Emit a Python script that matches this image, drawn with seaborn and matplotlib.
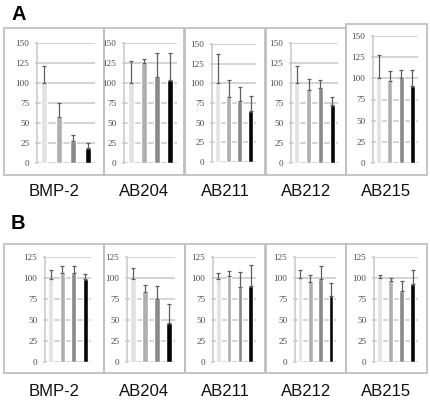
import matplotlib
matplotlib.use("Agg")
import matplotlib.pyplot as plt
from matplotlib.patches import Rectangle
import seaborn as sns
import pandas as pd
import numpy as np

sns.set_theme(style="white")

panels = ["BMP-2", "AB204", "AB211", "AB212", "AB215"]
conditions = ["c1", "c2", "c3", "c4"]
colors = ["#e2e2e2", "#afafaf", "#8a8a8a", "#050505"]

# Row A: means and upper error (sd)
a_means = {
    "BMP-2": [100, 57, 28, 19],
    "AB204": [100, 125, 108, 104],
    "AB211": [100, 83, 78, 65],
    "AB212": [100, 91, 94, 73],
    "AB215": [100, 97, 100, 91],
}
a_sd = {
    "BMP-2": [21, 18, 7, 6],
    "AB204": [28, 5, 29, 33],
    "AB211": [37, 21, 17, 19],
    "AB212": [21, 14, 10, 9],
    "AB215": [28, 12, 10, 19],
}
# Row B
b_means = {
    "BMP-2": [99, 106, 106, 99],
    "AB204": [99, 83, 75, 46],
    "AB211": [99, 102, 89, 90],
    "AB212": [100, 95, 99, 78],
    "AB215": [100, 96, 85, 93],
}
b_sd = {
    "BMP-2": [11, 8, 8, 6],
    "AB204": [13, 9, 15, 23],
    "AB211": [7, 6, 18, 25],
    "AB212": [10, 8, 15, 16],
    "AB215": [4, 4, 12, 16],
}
a_ticks = [0, 25, 50, 75, 100, 125, 150]
b_ticks = [0, 25, 50, 75, 100, 125]

W, H = 430, 404
fig = plt.figure(figsize=(W / 100, H / 100), dpi=100)

def fx(x):
    return x / W

def fy(y):
    return 1 - y / H

# layout (pixels): axes left, right, top, bottom ; boxes left, right, top, bottom
a_axes = [(37, 95, 43, 163), (124, 177, 43, 163), (212, 256, 44, 162),
          (291, 338, 43, 163), (373, 418, 36, 163)]
b_axes = [(45, 91, 257, 362), (127, 175, 257, 362), (213, 256, 257, 362),
          (295, 336, 257, 362), (374, 418, 257, 362)]
a_boxes = [(4, 104, 28, 175), (104, 184, 28, 175), (185, 265, 28, 175),
           (266, 346, 28, 175), (346, 427, 24, 175)]
b_boxes = [(4, 104, 244, 373), (104, 185, 244, 373), (185, 265, 244, 373),
           (266, 346, 244, 373), (346, 427, 244, 373)]
a_label_y = 192
b_label_y = 392

grid_c = "#c8c8c8"
tick_c = "#4a4a4a"

def draw_row(means, sds, ticks, axes_px, boxes_px, label_y):
    for name, (l, r, t, b), (bl, br, bt, bb) in zip(panels, axes_px, boxes_px):
        fig.patches.append(Rectangle((fx(bl), fy(bb)), fx(br - bl), (bb - bt) / H,
                                     transform=fig.transFigure, fill=False,
                                     edgecolor="#c0c0c0", linewidth=1.3, zorder=0))
        ax = fig.add_axes([fx(l), fy(b), fx(r - l), (b - t) / H])
        ax.set_axisbelow(True)
        for v in ticks:
            ax.axhline(v, color=grid_c, linewidth=1.1, zorder=0.5)
        df = pd.DataFrame({"condition": conditions, "value": means[name]})
        sns.barplot(data=df, x="condition", y="value", hue="condition",
                    palette=colors, order=conditions, hue_order=conditions,
                    width=0.44, errorbar=None, legend=False, ax=ax)
        for p in ax.patches:
            p.set_zorder(3)
        xs = np.arange(len(conditions))
        ax.errorbar(xs, means[name], yerr=[np.zeros(4), sds[name]], fmt="none",
                    ecolor="#5e5e5e", elinewidth=0.9, capsize=1.6, capthick=0.9,
                    zorder=4)
        ax.set_xlim(-0.5, 3.5)
        ax.set_ylim(0, ticks[-1])
        ax.set_yticks(ticks)
        ax.set_yticklabels([str(v) for v in ticks], family="Liberation Serif",
                           fontsize=6.6, color=tick_c)
        ax.set_xticks([])
        ax.set_xlabel("")
        ax.set_ylabel("")
        for s in ["top", "right", "bottom"]:
            ax.spines[s].set_visible(False)
        ax.spines["left"].set_color(grid_c)
        ax.spines["left"].set_linewidth(1.1)
        ax.tick_params(axis="y", length=1.5, width=1.1, color=grid_c, pad=4,
                       left=True)
        ax.patch.set_alpha(0)
        fig.text(fx((bl + br) / 2), fy(label_y), name, ha="center", va="center",
                 family="Liberation Sans", fontsize=12, color="#111111")

draw_row(a_means, a_sd, a_ticks, a_axes, a_boxes, a_label_y)
draw_row(b_means, b_sd, b_ticks, b_axes, b_boxes, b_label_y)

fig.text(fx(11), fy(14), "A", ha="left", va="center", family="Liberation Sans",
         fontsize=14.5, fontweight="bold", color="#000000")
fig.text(fx(11), fy(223), "B", ha="left", va="center", family="Liberation Sans",
         fontsize=14.5, fontweight="bold", color="#000000")

fig.savefig("out.png", dpi=100, facecolor="white")
